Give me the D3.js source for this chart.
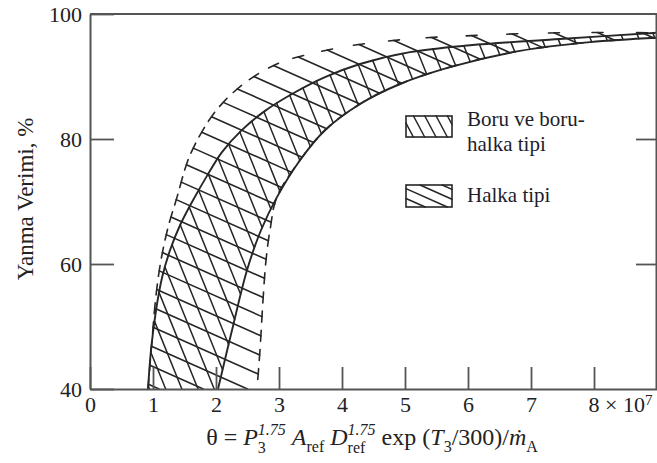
<!DOCTYPE html>
<html>
<head>
<meta charset="utf-8">
<script src="https://cdn.jsdelivr.net/npm/d3@7"></script>
<style>
  body { margin: 0; background: #fff; }
  text { font-family: "Liberation Serif", "Times New Roman", serif; }
</style>
</head>
<body>
<svg id="chart" width="657" height="463"></svg>
<script>
// Combustion efficiency (%) against the loading parameter θ (×10^7)
const xTicks = [0, 1, 2, 3, 4, 5, 6, 7, 8];
const xTickLabels = ["0", "1", "2", "3", "4", "5", "6", "7", "8 × 10"];
const xTickExponent = "7";
const yTicks = [40, 60, 80, 100];
const seriesNames = ["Boru ve boru-halka tipi", "Halka tipi"];

// "Halka tipi" band: outer (upper-left) and inner (lower-right) edges, [θ, %]
const halkaOuter = [[0.921, 40], [0.984, 47.8], [1.048, 55.0], [1.127, 60.6], [1.238, 65.8],
  [1.381, 70.7], [1.556, 76.6], [1.746, 80.6], [1.984, 84.3], [2.27, 87.4], [2.619, 90.1],
  [3.016, 92.2], [3.492, 93.6], [4.127, 94.9], [5.079, 96.0], [6.19, 96.6], [7.46, 97.0],
  [9.0, 97.0]];
const halkaInner = [[2.651, 40], [2.698, 46.2], [2.746, 54.2], [2.794, 60.6], [2.857, 65.4],
  [2.968, 70.7], [3.333, 76.6], [3.73, 81.4], [4.286, 85.6], [4.921, 88.8], [5.714, 91.5],
  [6.825, 94.1], [7.937, 95.5], [9.0, 96.2]];

// "Boru ve boru-halka tipi" band: upper and lower edges, [θ, %]
const boruUpper = [[0.921, 40], [0.968, 46.2], [1.048, 52.6], [1.143, 57.8], [1.27, 62.2],
  [1.429, 66.2], [1.635, 70.2], [1.857, 74.1], [2.095, 77.9], [2.397, 81.3], [2.778, 84.5],
  [3.206, 87.2], [3.73, 89.9], [4.286, 92.0], [5.079, 93.9], [6.032, 95.0], [7.46, 96.0],
  [9.0, 97.0]];
const boruLower = [[2.032, 40], [2.254, 49.4], [2.492, 59.0], [2.714, 65.4], [2.968, 70.7],
  [3.333, 76.6], [3.73, 81.4], [4.286, 85.6], [4.921, 88.8], [5.714, 91.5], [6.825, 94.1],
  [7.937, 95.5], [9.0, 96.2]];

const svg = d3.select("#chart");
const ink = "#262626";
const axisInk = "#555";

const x = d3.scaleLinear().domain([0, 9]).range([90, 657]);
const y = d3.scaleLinear().domain([40, 100]).range([389, 14]);

const curve = d3.line()
  .x(d => x(d[0])).y(d => y(d[1]))
  .curve(d3.curveCatmullRom.alpha(0.5));

// Turn a smoothed edge into a dense polyline of screen points
function densify(pts, n = 400) {
  const p = svg.append("path").attr("d", curve(pts)).attr("fill", "none");
  const node = p.node(), len = node.getTotalLength(), out = [];
  for (let i = 0; i <= n; i++) {
    const q = node.getPointAtLength(len * i / n);
    out.push([q.x, q.y]);
  }
  p.remove();
  return out;
}

// Closed outline of a band as a list of edges; "cap" marks the drawn-edge sides
function bandEdges(upper, lower) {
  const a = densify(upper), b = densify(lower).reverse(), edges = [];
  for (let i = 0; i + 1 < a.length; i++) edges.push({ a: a[i], b: a[i + 1], cap: true });
  edges.push({ a: a[a.length - 1], b: b[0], cap: false });
  for (let i = 0; i + 1 < b.length; i++) edges.push({ a: b[i], b: b[i + 1], cap: true });
  edges.push({ a: b[b.length - 1], b: a[0], cap: false });
  return edges;
}

function rectEdges(x0, y0, x1, y1) {
  const c = [[x0, y0], [x1, y0], [x1, y1], [x0, y1]];
  return c.map((p, i) => ({ a: p, b: c[(i + 1) % 4], cap: false }));
}

// Parallel hatch lines clipped to an outline, with optional short end caps
function hatch(g, edges, angleDeg, spacing, phase, capLen, width) {
  const th = angleDeg * Math.PI / 180;
  const d = [Math.cos(th), Math.sin(th)], n = [-Math.sin(th), Math.cos(th)];
  const proj = p => n[0] * p[0] + n[1] * p[1];
  const cs = edges.map(e => proj(e.a));
  const cmin = d3.min(cs), cmax = d3.max(cs);
  const segs = [], caps = [];
  for (let c = cmin + phase; c < cmax; c += spacing) {
    const hits = [];
    for (const e of edges) {
      const fa = proj(e.a) - c, fb = proj(e.b) - c;
      if ((fa < 0) !== (fb < 0)) {
        const t = fa / (fa - fb);
        const p = [e.a[0] + t * (e.b[0] - e.a[0]), e.a[1] + t * (e.b[1] - e.a[1])];
        hits.push({ p, u: d[0] * p[0] + d[1] * p[1], e });
      }
    }
    hits.sort((h1, h2) => h1.u - h2.u);
    for (let i = 0; i + 1 < hits.length; i += 2) {
      segs.push([hits[i].p, hits[i + 1].p]);
      if (capLen > 0) {
        for (const h of [hits[i], hits[i + 1]]) {
          if (!h.e.cap) continue;
          const tx = h.e.b[0] - h.e.a[0], ty = h.e.b[1] - h.e.a[1];
          const tl = Math.hypot(tx, ty) || 1;
          const k = capLen / 2 / tl;
          caps.push([[h.p[0] - tx * k, h.p[1] - ty * k], [h.p[0] + tx * k, h.p[1] + ty * k]]);
        }
      }
    }
  }
  g.selectAll(null).data(segs.concat(caps)).join("line")
    .attr("x1", s => s[0][0]).attr("y1", s => s[0][1])
    .attr("x2", s => s[1][0]).attr("y2", s => s[1][1])
    .attr("stroke", ink).attr("stroke-width", width).attr("stroke-linecap", "round");
}

// Plot area clip
svg.append("clipPath").attr("id", "plot")
  .append("rect").attr("x", x(0)).attr("y", y(100))
  .attr("width", x(9) - x(0)).attr("height", y(40) - y(100));

const bands = svg.append("g").attr("clip-path", "url(#plot)");

// Halka tipi: shallow hatching with capped ends
hatch(bands.append("g"), bandEdges(halkaOuter, halkaInner), 24, 18, 6, 11, 1.6);
// Boru ve boru-halka tipi: steep hatching between solid edges
hatch(bands.append("g"), bandEdges(boruUpper, boruLower), 68, 15, 4, 0, 1.5);

bands.selectAll(".edge").data([boruUpper, boruLower]).join("path")
  .attr("class", "edge")
  .attr("d", curve)
  .attr("fill", "none").attr("stroke", ink).attr("stroke-width", 1.9);

// Axes and frame
const fontTick = 22;
const gx = svg.append("g").attr("transform", `translate(0,${y(40)})`)
  .call(d3.axisBottom(x).tickValues(xTicks).tickSizeInner(-22).tickSizeOuter(0).tickPadding(7)
    .tickFormat((d, i) => xTickLabels[i]));
gx.selectAll("text").attr("font-size", fontTick).attr("fill", "#222")
  .attr("font-family", "Liberation Serif, serif");
gx.selectAll(".tick").filter(d => d === 8).select("text")
  .attr("text-anchor", "start").attr("dx", -6)
  .append("tspan").attr("dy", "-0.45em").attr("font-size", 15).text(xTickExponent);

const gy = svg.append("g").attr("transform", `translate(${x(0)},0)`)
  .call(d3.axisLeft(y).tickValues(yTicks).tickSizeInner(-24).tickSizeOuter(0).tickPadding(8));
gy.selectAll("text").attr("font-size", fontTick).attr("fill", "#222")
  .attr("font-family", "Liberation Serif, serif");

svg.append("g").attr("transform", `translate(${x(9) - 1},0)`)
  .call(d3.axisRight(y).tickValues([60, 80]).tickSizeInner(-20).tickSizeOuter(0).tickFormat(""));

svg.append("line").attr("class", "frame")
  .attr("x1", x(0)).attr("x2", x(9)).attr("y1", y(100)).attr("y2", y(100));

svg.selectAll(".domain, .tick line, .frame")
  .attr("stroke", axisInk).attr("stroke-width", 2);
svg.selectAll(".tick line").attr("stroke-width", 1.8);

// Y axis title
svg.append("text")
  .attr("transform", "translate(33,199) rotate(-90)")
  .attr("text-anchor", "middle").attr("font-size", 23).attr("fill", "#222")
  .text("Yanma Verimi, %");

// X axis title: θ = P3^1.75 A_ref D_ref^1.75 exp (T3/300)/ṁA
const big = 24, small = 16;
const titleParts = [
  { t: "θ = ", s: big },
  { t: "P", s: big, it: true },
  { t: "1.75", s: small, it: true, off: -10 },
  { t: "3", s: small, off: 8, stack: true },
  { t: " ", s: big },
  { t: "A", s: big, it: true },
  { t: "ref", s: small, off: 7 },
  { t: " ", s: big },
  { t: "D", s: big, it: true },
  { t: "1.75", s: small, it: true, off: -10 },
  { t: "ref", s: small, off: 8, stack: true },
  { t: " exp (", s: big },
  { t: "T", s: big, it: true },
  { t: "3", s: small, off: 7 },
  { t: "/300)/", s: big },
  { t: "ṁ", s: big, it: true },
  { t: "A", s: small, off: 7 }
];
const tg = svg.append("g");
let cx = 0, prevStart = 0, prevEnd = 0;
for (const p of titleParts) {
  const start = p.stack ? prevStart : cx;
  const el = tg.append("text")
    .attr("x", start).attr("y", p.off || 0)
    .attr("font-size", p.s).attr("fill", "#222")
    .attr("font-style", p.it ? "italic" : "normal")
    .style("white-space", "pre")
    .text(p.t);
  const w = el.node().getComputedTextLength();
  if (p.stack) { cx = Math.max(prevEnd, start + w); }
  else { prevStart = start; prevEnd = start + w; cx = start + w; }
}
tg.attr("transform", `translate(${372 - cx / 2},445)`);

// Legend
const legend = svg.append("g");
const legendRows = [
  { box: [406, 116, 452, 137], angle: 62, spacing: 10, phase: 4, lines: ["Boru ve boru-", "halka tipi"], ys: [126, 151] },
  { box: [406, 185, 452, 207], angle: 24, spacing: 9, phase: 4, lines: ["Halka tipi"], ys: [202] }
];
legendRows.forEach((r, i) => {
  const [x0, y0, x1, y1] = r.box;
  hatch(legend.append("g"), rectEdges(x0, y0, x1, y1), r.angle, r.spacing, r.phase, 0, 1.5);
  legend.append("rect").attr("x", x0).attr("y", y0).attr("width", x1 - x0).attr("height", y1 - y0)
    .attr("fill", "none").attr("stroke", ink).attr("stroke-width", 1.6);
  legend.append("text").attr("x", 467).attr("font-size", 21).attr("fill", "#1d1d2b")
    .attr("aria-label", seriesNames[i])
    .selectAll("tspan").data(r.lines).join("tspan")
    .attr("x", 467).attr("y", (d, j) => r.ys[j]).text(d => d);
});
</script>
</body>
</html>
